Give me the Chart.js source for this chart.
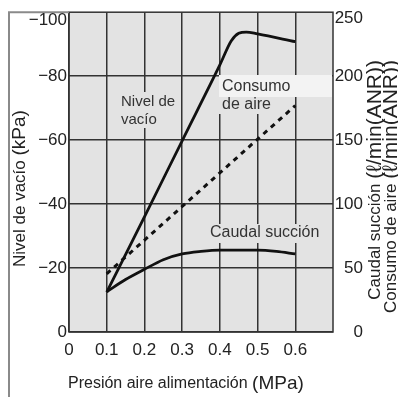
<!DOCTYPE html>
<html>
<head>
<meta charset="utf-8">
<script src="https://cdn.jsdelivr.net/npm/chart.js@4"></script>
<style>
  html, body { margin: 0; padding: 0; background: #fff; }
  #wrap { width: 398px; height: 397px; }
</style>
</head>
<body>
<div id="wrap"><canvas id="grafico" width="398" height="397"></canvas></div>
<script>
// ---- datos ----
const presionNivel = [0.1, 0.2, 0.3, 0.4, 0.43, 0.45, 0.47, 0.5, 0.6];
const nivelVacio = [-12.5, -36, -59.8, -83.5, -91, -93.4, -93.8, -93.2, -90.8];

const presionCaudal = [0.1, 0.15, 0.2, 0.25, 0.3, 0.35, 0.4, 0.5, 0.55, 0.6];
const caudalSuccion = [31.5, 41, 49, 56.5, 61, 63, 64, 64, 63, 61];

const presionConsumo = [0.1, 0.6];
const consumoAire = [45.5, 177];

const ticksPresion = [0, 0.1, 0.2, 0.3, 0.4, 0.5, 0.6];
const ticksVacio = [0, -20, -40, -60, -80];
const ticksCaudal = [0, 50, 100, 150, 200];

const FUENTE = "'Liberation Sans', Arial, Helvetica, sans-serif";
const FONDO = "#e3e3e3";

function pares(xs, ys) {
    return xs.map((x, i) => ({ x: x, y: ys[i] }));
}

function fmtMenos(v) {
    return v < 0 ? "\u2212" + Math.abs(v) : String(v);
}

// texto en dos tamaños (parte normal + unidades mas grandes)
function textoPartes(ctx, partes, x, y, alinear) {
    let total = 0;
    partes.forEach(p => { ctx.font = p.size + "px " + FUENTE; total += ctx.measureText(p.t).width; });
    let cx = alinear === "end" ? x - total : x;
    partes.forEach(p => {
        ctx.font = p.size + "px " + FUENTE;
        ctx.fillText(p.t, cx, y);
        cx += ctx.measureText(p.t).width;
    });
}

const decoracion = {
    id: "decoracion",
    beforeDraw(chart) {
        const { ctx, chartArea: a } = chart;
        ctx.save();
        ctx.fillStyle = FONDO;
        ctx.fillRect(a.left, a.top, a.right - a.left, a.bottom - a.top);
        ctx.restore();
    },
    beforeDatasetsDraw(chart) {
        const { ctx, chartArea: a } = chart;
        ctx.save();
        // marco del grafico
        ctx.strokeStyle = "#333";
        ctx.lineWidth = 1.5;
        ctx.strokeRect(a.left, a.top, a.right - a.left, a.bottom - a.top);
        // marco exterior gris
        ctx.strokeStyle = "#8a8a8a";
        ctx.lineWidth = 2;
        ctx.beginPath();
        ctx.moveTo(9, 397);
        ctx.lineTo(9, a.top);
        ctx.lineTo(a.left, a.top);
        ctx.stroke();
        // fondos de las etiquetas
        ctx.fillStyle = FONDO;
        ctx.fillRect(118, 92, 62, 36);
        ctx.fillRect(207, 224, 117, 19);
        ctx.fillRect(219, 97, 66, 17);
        ctx.fillStyle = "#f3f3f3";
        ctx.fillRect(219, 75, a.right - 219 - 1, 22);
        ctx.restore();
    },
    afterDatasetsDraw(chart) {
        const { ctx } = chart;
        ctx.save();
        ctx.fillStyle = "#333";
        ctx.textBaseline = "middle";
        ctx.font = "15px " + FUENTE;
        ctx.fillText("Nivel de", 121, 102);
        ctx.fillText("vacío", 121, 120);
        ctx.font = "16px " + FUENTE;
        ctx.fillText("Consumo", 222, 87);
        ctx.fillText("de aire", 222, 105);
        ctx.fillText("Caudal succión", 210, 233);

        // etiquetas superiores desplazadas
        ctx.fillStyle = "#222";
        ctx.font = "17px " + FUENTE;
        ctx.textAlign = "right";
        ctx.fillText(fmtMenos(-100), 67, 20);
        ctx.fillText("250", 363, 18);

        // titulos de ejes
        ctx.textAlign = "left";
        textoPartes(ctx, [{ t: "Presión aire alimentación ", size: 16 }, { t: "(MPa)", size: 19 }], 68, 384, "start");

        ctx.save();
        ctx.translate(20, 267);
        ctx.rotate(-Math.PI / 2);
        textoPartes(ctx, [{ t: "Nivel de vacío ", size: 17 }, { t: "(kPa)", size: 19 }], 0, 0, "start");
        ctx.restore();

        ctx.save();
        ctx.translate(375, 60);
        ctx.rotate(-Math.PI / 2);
        textoPartes(ctx, [{ t: "Caudal succión ", size: 17 }, { t: "(\u2113/min(ANR))", size: 21 }], 0, 0, "end");
        ctx.restore();

        ctx.save();
        ctx.translate(391, 60);
        ctx.rotate(-Math.PI / 2);
        textoPartes(ctx, [{ t: "Consumo de aire ", size: 17 }, { t: "(\u2113/min(ANR))", size: 21 }], 0, 0, "end");
        ctx.restore();

        ctx.restore();
    }
};

const ctx = document.getElementById("grafico").getContext("2d");
new Chart(ctx, {
    type: "line",
    data: {
        datasets: [
            {
                label: "Nivel de vacío",
                data: pares(presionNivel, nivelVacio),
                yAxisID: "yVacio",
                borderColor: "#111",
                borderWidth: 2.8,
                pointRadius: 0,
                cubicInterpolationMode: "monotone"
            },
            {
                label: "Caudal succión",
                data: pares(presionCaudal, caudalSuccion),
                yAxisID: "yCaudal",
                borderColor: "#111",
                borderWidth: 2.8,
                pointRadius: 0,
                cubicInterpolationMode: "monotone"
            },
            {
                label: "Consumo de aire",
                data: pares(presionConsumo, consumoAire),
                yAxisID: "yCaudal",
                borderColor: "#111",
                borderWidth: 3,
                borderDash: [5, 5],
                pointRadius: 0
            }
        ]
    },
    options: {
        responsive: false,
        animation: false,
        layout: { padding: { top: 7, left: 0, right: 35, bottom: 0 } },
        plugins: { legend: { display: false }, tooltip: { enabled: false } },
        scales: {
            x: {
                type: "linear",
                min: 0,
                max: 0.7,
                afterBuildTicks: s => { s.ticks = ticksPresion.concat([0.7]).map(v => ({ value: v })); },
                afterFit: s => { s.height = 65; },
                ticks: {
                    color: "#222",
                    font: { family: FUENTE, size: 17 },
                    padding: 8,
                    maxRotation: 0,
                    callback: v => ticksPresion.includes(v) ? String(v) : null
                },
                grid: { color: "#333", lineWidth: 1.5, drawTicks: false },
                border: { display: false }
            },
            yVacio: {
                position: "left",
                reverse: true,
                min: -100,
                max: 0,
                afterBuildTicks: s => { s.ticks = ticksVacio.concat([-100]).map(v => ({ value: v })); },
                afterFit: s => { s.width = 69; },
                ticks: {
                    color: "#222",
                    font: { family: FUENTE, size: 17 },
                    padding: 2,
                    callback: v => ticksVacio.includes(v) ? fmtMenos(v) : null
                },
                grid: { color: "#333", lineWidth: 1.5, drawTicks: false },
                border: { display: false }
            },
            yCaudal: {
                position: "right",
                min: 0,
                max: 250,
                afterBuildTicks: s => { s.ticks = ticksCaudal.concat([250]).map(v => ({ value: v })); },
                afterFit: s => { s.width = 30; },
                ticks: {
                    color: "#222",
                    font: { family: FUENTE, size: 17 },
                    padding: 2,
                    crossAlign: "far",
                    callback: v => ticksCaudal.includes(v) ? String(v) : null
                },
                grid: { display: false, drawTicks: false },
                border: { display: false }
            }
        }
    },
    plugins: [decoracion]
});
</script>
</body>
</html>
